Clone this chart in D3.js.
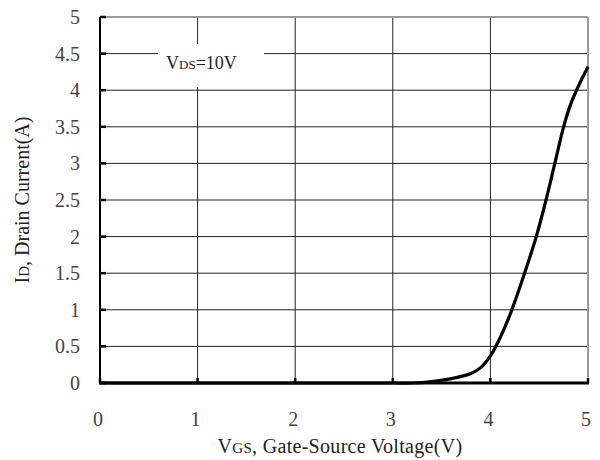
<!DOCTYPE html>
<html>
<head>
<meta charset="utf-8">
<script src="https://cdn.jsdelivr.net/npm/d3@7"></script>
<style>
  body { margin: 0; background: #fff; }
  text { font-family: "Liberation Serif", "DejaVu Serif", serif; }
</style>
</head>
<body>
<script>
// drain current vs gate-source voltage
const vgs = [0, 1, 2, 3, 3.2, 3.4, 3.6, 3.8, 3.9, 4.0, 4.1, 4.2, 4.35, 4.47, 4.57, 4.66, 4.75, 4.82, 4.9, 5.0];
const idA = [0, 0, 0, 0, 0, 0.02, 0.06, 0.13, 0.21, 0.37, 0.62, 0.93, 1.5, 2.0, 2.5, 3.0, 3.5, 3.8, 4.05, 4.32];

const xTicks = [0, 1, 2, 3, 4, 5];
const yTicks = [0, 0.5, 1, 1.5, 2, 2.5, 3, 3.5, 4, 4.5, 5];

const width = 600, height = 460;
const margin = {top: 17, right: 12, bottom: 77, left: 100};

const svg = d3.select("body").append("svg")
    .attr("width", width)
    .attr("height", height);

const x = d3.scaleLinear().domain([0, 5]).range([margin.left, width - margin.right]);
const y = d3.scaleLinear().domain([0, 5]).range([height - margin.bottom, margin.top]);

// grid
svg.append("g")
  .selectAll("line")
  .data(yTicks.slice(1, -1))
  .join("line")
    .attr("x1", x(0)).attr("x2", x(5))
    .attr("y1", d => y(d)).attr("y2", d => y(d))
    .attr("stroke", "#222").attr("stroke-width", 1);

svg.append("g")
  .selectAll("line")
  .data(xTicks.slice(1, -1))
  .join("line")
    .attr("x1", d => x(d)).attr("x2", d => x(d))
    .attr("y1", y(0)).attr("y2", y(5))
    .attr("stroke", "#222").attr("stroke-width", 1);

// frame: grey top/right, black left/bottom
svg.append("line")
    .attr("x1", x(0)).attr("x2", x(5)).attr("y1", y(5)).attr("y2", y(5))
    .attr("stroke", "#999").attr("stroke-width", 2);
svg.append("line")
    .attr("x1", x(5)).attr("x2", x(5)).attr("y1", y(5)).attr("y2", y(0))
    .attr("stroke", "#999").attr("stroke-width", 2);

// little ticks pointing into the plot
svg.append("g")
  .selectAll("line")
  .data(yTicks)
  .join("line")
    .attr("x1", x(0)).attr("x2", x(0) + 6)
    .attr("y1", d => y(d)).attr("y2", d => y(d))
    .attr("stroke", "#000").attr("stroke-width", 2.5);

svg.append("g")
  .selectAll("line")
  .data(xTicks)
  .join("line")
    .attr("x1", d => x(d)).attr("x2", d => x(d))
    .attr("y1", y(0)).attr("y2", y(0) - 5)
    .attr("stroke", "#000").attr("stroke-width", 2.5);

svg.append("line")
    .attr("x1", x(0)).attr("x2", x(0)).attr("y1", y(5)).attr("y2", y(0))
    .attr("stroke", "#000").attr("stroke-width", 2);
svg.append("line")
    .attr("x1", x(0) - 1).attr("x2", x(5) + 1).attr("y1", y(0)).attr("y2", y(0))
    .attr("stroke", "#000").attr("stroke-width", 3);

// tick labels
svg.append("g")
  .selectAll("text")
  .data(yTicks)
  .join("text")
    .attr("x", 80)
    .attr("y", d => y(d))
    .attr("text-anchor", "end")
    .attr("dominant-baseline", "central")
    .attr("fill", "#444")
    .style("font-size", "20px")
    .text(d => d);

svg.append("g")
  .selectAll("text")
  .data(xTicks)
  .join("text")
    .attr("x", d => x(d) - 2)
    .attr("y", 419)
    .attr("text-anchor", "middle")
    .attr("dominant-baseline", "central")
    .attr("fill", "#444")
    .style("font-size", "20px")
    .text(d => d);

// curve
const line = d3.line()
    .x((d, i) => x(vgs[i]))
    .y(d => y(d))
    .curve(d3.curveCatmullRom.alpha(0.5));

svg.append("path")
    .datum(idA)
    .attr("d", line)
    .attr("fill", "none")
    .attr("stroke", "#000")
    .attr("stroke-width", 3.2)
    .attr("stroke-linejoin", "round");

// condition label on white box
svg.append("rect")
    .attr("x", 158).attr("y", 44)
    .attr("width", 106).attr("height", 43)
    .attr("fill", "#fff");

const cond = svg.append("text")
    .attr("x", 166).attr("y", 69)
    .attr("fill", "#222")
    .style("font-size", "18px");
cond.append("tspan").text("V");
cond.append("tspan").style("font-size", "13px").text("DS");
cond.append("tspan").text("=10V");

// axis titles
const xt = svg.append("text")
    .attr("x", 340).attr("y", 453)
    .attr("text-anchor", "middle")
    .attr("fill", "#222")
    .style("font-size", "20px")
    .style("letter-spacing", "0.3px");
xt.append("tspan").text("V");
xt.append("tspan").style("font-size", "15px").text("GS");
xt.append("tspan").text(", Gate-Source Voltage(V)");

const yt = svg.append("text")
    .attr("transform", "translate(29,200) rotate(-90)")
    .attr("text-anchor", "middle")
    .attr("fill", "#222")
    .style("font-size", "20px");
yt.append("tspan").text("I");
yt.append("tspan").style("font-size", "15px").text("D");
yt.append("tspan").text(", Drain Current(A)");
</script>
</body>
</html>
